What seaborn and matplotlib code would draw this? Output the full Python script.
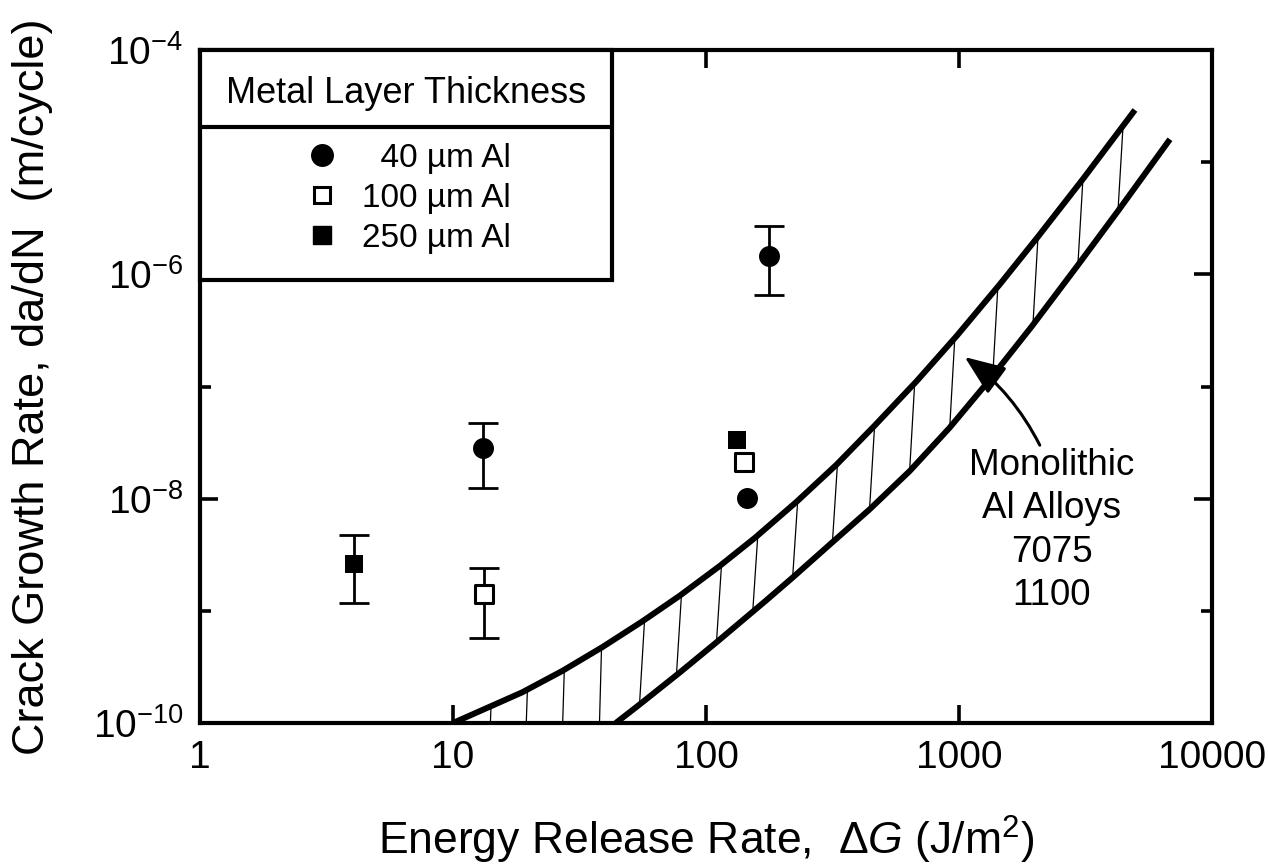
import numpy as np
import matplotlib
matplotlib.use("Agg")
import matplotlib.pyplot as plt
import seaborn as sns
from matplotlib.lines import Line2D
from matplotlib.ticker import FixedLocator, FixedFormatter, NullLocator, NullFormatter
from matplotlib.transforms import IdentityTransform

# ---------------- data ----------------
al40_x = [13.1, 178, 145]
al40_y = [2.83e-8, 1.46e-6, 1.01e-8]
al40_lo = [1.25e-8, 6.5e-7, np.nan]
al40_hi = [4.73e-8, 2.7e-6, np.nan]

al100_x = [13.2, 141]
al100_y = [1.41e-9, 2.12e-8]
al100_lo = [5.74e-10, np.nan]
al100_hi = [2.4e-9, np.nan]

al250_x = [4.07, 132]
al250_y = [2.62e-9, 3.33e-8]
al250_lo = [1.17e-9, np.nan]
al250_hi = [4.75e-9, np.nan]

# monolithic Al alloy band (7075 upper, 1100 lower)
upper_x = [10.0, 18.8, 27.1, 39.0, 56.1, 78.6, 113, 156, 228, 328, 464, 681,
           980, 1450, 2050, 3090, 4960]
upper_y = [1.0e-10, 1.88e-10, 2.92e-10, 4.76e-10, 8.07e-10, 1.36e-9, 2.50e-9,
           4.47e-9, 9.38e-9, 2.01e-8, 4.48e-8, 1.12e-7, 2.83e-7, 8.15e-7,
           2.16e-6, 7.08e-6, 2.92e-5]
lower_x = [44.0, 54.6, 78.6, 110, 173, 220, 316, 443, 638, 919, 1288, 1940,
           2920, 4250, 6820]
lower_y = [1.0e-10, 1.46e-10, 2.81e-10, 5.24e-10, 1.24e-9, 1.98e-9, 4.09e-9,
           8.02e-9, 1.76e-8, 4.30e-8, 1.07e-7, 3.44e-7, 1.17e-6, 3.67e-6,
           1.60e-5]
hatch_x = [13.5, 18.8, 26.3, 36.9, 54.6, 76.4, 110, 153, 220, 316, 443, 638,
           919, 1360, 1960, 2950, 4250]

legend_labels = ["  40 \u00b5m Al", "100 \u00b5m Al", "250 \u00b5m Al"]
legend_title = "Metal Layer Thickness"
x_ticks = [1, 10, 100, 1000, 10000]
x_ticklabels = ["1", "10", "100", "1000", "10000"]
y_ticks = [1e-10, 1e-8, 1e-6, 1e-4]
y_ticklabels = [r"$10^{-10}$", r"$10^{-8}$", r"$10^{-6}$", r"$10^{-4}$"]
y_minor = [1e-9, 1e-7, 1e-5]
band_text = "Monolithic\nAl Alloys\n7075\n1100"

# ---------------- style ----------------
sns.set_theme(style="white")
plt.rcParams["font.family"] = ["Liberation Sans", "DejaVu Sans"]
plt.rcParams["mathtext.fontset"] = "custom"
plt.rcParams["mathtext.rm"] = "Liberation Sans"
plt.rcParams["mathtext.it"] = "Liberation Sans:italic"
plt.rcParams["mathtext.bf"] = "Liberation Sans:bold"
plt.rcParams["axes.edgecolor"] = "black"
plt.rcParams["text.color"] = "black"
plt.rcParams["axes.labelcolor"] = "black"
plt.rcParams["xtick.color"] = "black"
plt.rcParams["ytick.color"] = "black"
plt.rcParams["xtick.labelcolor"] = "black"
plt.rcParams["ytick.labelcolor"] = "black"

fig = plt.figure(figsize=(12.68, 8.65), dpi=100)
ax = fig.add_axes([200 / 1268, 1 - 723 / 865, 1012 / 1268, 673 / 865])
ax.set(xscale="log", yscale="log")
ax.set_xlim(1, 1e4)
ax.set_ylim(1e-10, 1e-4)

# band curves
for bx, by in [(upper_x, upper_y), (lower_x, lower_y)]:
    sns.lineplot(x=bx, y=by, ax=ax, color="black", lw=4.3, sort=False,
                 estimator=None, zorder=3, solid_joinstyle="round",
                 solid_capstyle="butt")

# hatch lines between the curves
lux, luy = np.log10(upper_x), np.log10(upper_y)
llx, lly = np.log10(lower_x), np.log10(lower_y)
for hx in hatch_x:
    xb = np.log10(hx)
    xt = xb + 0.02
    yt = np.interp(xt, lux, luy)
    yb = np.interp(xb, llx, lly, left=-11.0)
    ax.plot([10 ** xb, 10 ** xt], [10 ** yb, 10 ** yt], color="black",
            lw=0.9, zorder=2)

# error bars
for xs, ys, lo, hi in [(al40_x, al40_y, al40_lo, al40_hi),
                       (al100_x, al100_y, al100_lo, al100_hi),
                       (al250_x, al250_y, al250_lo, al250_hi)]:
    xs, ys, lo, hi = map(np.asarray, (xs, ys, lo, hi))
    m = ~np.isnan(lo)
    ax.errorbar(xs[m], ys[m], yerr=[ys[m] - lo[m], hi[m] - ys[m]], fmt="none",
                ecolor="black", elinewidth=2.0, capsize=10.8, capthick=2.0,
                zorder=4)

# markers
sns.scatterplot(x=al40_x, y=al40_y, ax=ax, marker="o", s=228, color="black",
                edgecolor="black", linewidth=0, zorder=5)
sns.scatterplot(x=al100_x, y=al100_y, ax=ax, marker="s", s=150,
                facecolor="white", edgecolor="black", linewidth=2.2, zorder=5)
sns.scatterplot(x=al250_x, y=al250_y, ax=ax, marker="s", s=170, color="black",
                edgecolor="black", linewidth=0, zorder=5)

# ticks
ax.xaxis.set_major_locator(FixedLocator(x_ticks))
ax.xaxis.set_major_formatter(FixedFormatter(x_ticklabels))
ax.xaxis.set_minor_locator(NullLocator())
ax.xaxis.set_minor_formatter(NullFormatter())
ax.yaxis.set_major_locator(FixedLocator(y_ticks))
ax.yaxis.set_major_formatter(FixedFormatter(y_ticklabels))
ax.yaxis.set_minor_locator(FixedLocator(y_minor))
ax.yaxis.set_minor_formatter(NullFormatter())
ax.tick_params(which="both", direction="in", top=True, right=True,
               bottom=True, left=True, width=2.6, color="black",
               labelcolor="black")
ax.tick_params(which="major", length=13, labelsize=28, pad=12)
ax.tick_params(which="minor", length=8)
for s in ax.spines.values():
    s.set_linewidth(3.0)
    s.set_color("black")

# axis labels
ax.set_xlabel("Energy Release Rate,  \u0394$\\mathit{G}$ (J/m$^2$)",
              fontsize=32, color="black")
ax.set_ylabel("Crack Growth Rate, da/dN  (m/cycle)", fontsize=32.5,
              color="black")
ax.xaxis.set_label_coords(0.5, -0.135)
ax.yaxis.set_label_coords(-0.145, 0.5)

# annotation
ax.annotate("", xy=(1054, 1.83e-7), xytext=(2086, 3.0e-8),
            arrowprops=dict(arrowstyle="-|>,head_length=1.0,head_width=0.4",
                            color="black", lw=2.2, mutation_scale=25,
                            shrinkA=0, shrinkB=0,
                            connectionstyle="arc3,rad=0.12"), zorder=6)
ax.text(2330, 5.2e-9, band_text, ha="center", va="center", fontsize=26.5,
        linespacing=1.3, color="black", zorder=6)

# legend
handles = [
    Line2D([], [], ls="", marker="o", ms=15.5, mfc="black", mec="black"),
    Line2D([], [], ls="", marker="s", ms=11.5, mfc="white", mec="black", mew=2.2),
    Line2D([], [], ls="", marker="s", ms=12.5, mfc="black", mec="black"),
]
leg = ax.legend(handles, legend_labels, title=legend_title, loc="upper left",
                bbox_to_anchor=(0.0, 1.0), borderaxespad=0.0, fontsize=24,
                title_fontsize=26, fancybox=False, framealpha=1.0,
                edgecolor="black", borderpad=0.78, labelspacing=0.27,
                handletextpad=0.6, handlelength=1.2, alignment="center",
                labelcolor="black")
leg.get_title().set_color("black")
leg.get_frame().set_linewidth(3.0)
leg.set_zorder(10)
try:
    leg._legend_box.sep = 23
except Exception:
    pass

fig.canvas.draw()
r = fig.canvas.get_renderer()
tb = leg.get_title().get_window_extent(r)
try:
    hb = leg._legend_handle_box.get_window_extent(r)
    ysep = (tb.y0 + hb.y1) / 2
except Exception:
    ysep = tb.y0 - 10
fb = leg.get_frame().get_window_extent(r)
fig.add_artist(Line2D([fb.x0, fb.x1], [ysep, ysep], color="black", lw=3.0,
                      transform=IdentityTransform(), zorder=20))

fig.savefig("out.png", dpi=100)
